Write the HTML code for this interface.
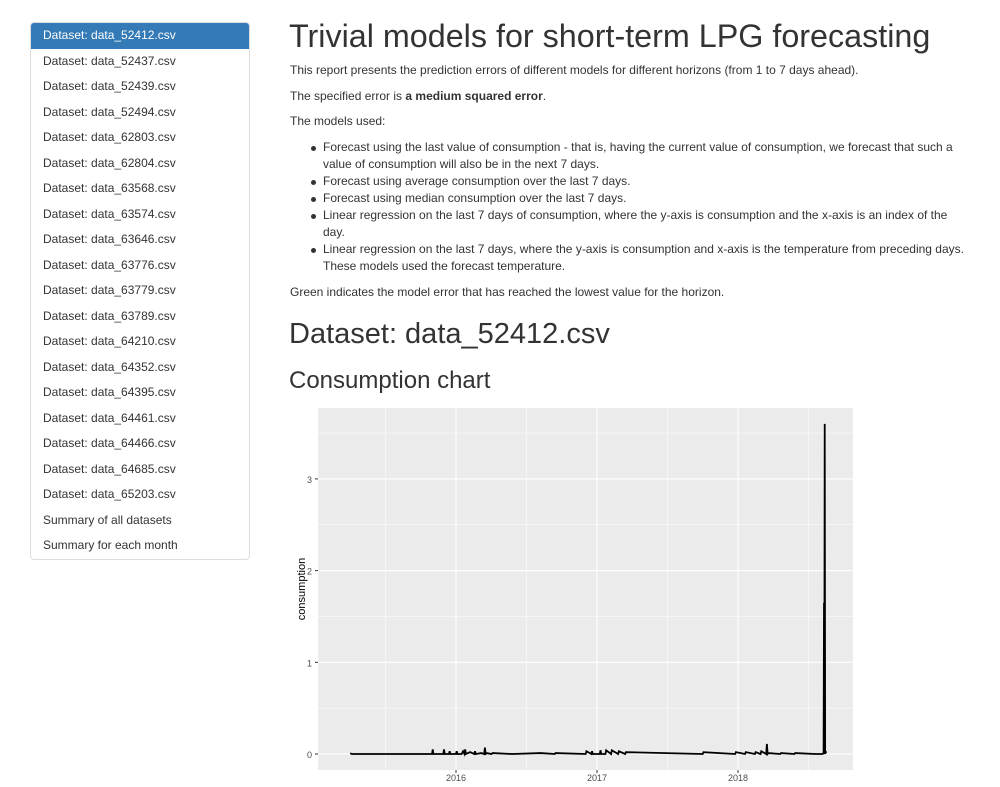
<!DOCTYPE html>
<html><head><meta charset="utf-8"><style>
body{margin:0;width:1000px;height:787px;overflow:hidden;background:#fff;font-family:"Liberation Sans",sans-serif;color:#333;position:relative}
#nav{position:absolute;left:30px;top:22px;width:218px;border:1px solid #ddd;border-radius:4px;overflow:hidden}
#nav div{height:25.5px;line-height:25.5px;padding-left:12px;font-size:12px;color:#333;border-top:0}
#nav div.active{background:#337ab7;color:#fff}
.t{position:absolute;left:290px;font-size:12px;white-space:nowrap}
h1{position:absolute;left:289px;top:18px;margin:0;font-weight:normal;font-size:32.3px;color:#333}
h2{position:absolute;left:289px;margin:0;font-weight:normal;color:#333}
.b{position:absolute;left:323px;font-size:12px;white-space:nowrap}
.b:before{content:"";position:absolute;left:-12px;top:6px;width:5px;height:5px;border-radius:50%;background:#333}
</style></head><body>
<div id="nav">
<div class="active">Dataset: data_52412.csv</div>
<div>Dataset: data_52437.csv</div>
<div>Dataset: data_52439.csv</div>
<div>Dataset: data_52494.csv</div>
<div>Dataset: data_62803.csv</div>
<div>Dataset: data_62804.csv</div>
<div>Dataset: data_63568.csv</div>
<div>Dataset: data_63574.csv</div>
<div>Dataset: data_63646.csv</div>
<div>Dataset: data_63776.csv</div>
<div>Dataset: data_63779.csv</div>
<div>Dataset: data_63789.csv</div>
<div>Dataset: data_64210.csv</div>
<div>Dataset: data_64352.csv</div>
<div>Dataset: data_64395.csv</div>
<div>Dataset: data_64461.csv</div>
<div>Dataset: data_64466.csv</div>
<div>Dataset: data_64685.csv</div>
<div>Dataset: data_65203.csv</div>
<div>Summary of all datasets</div>
<div>Summary for each month</div>
</div>
<h1>Trivial models for short-term LPG forecasting</h1>
<div class="t" style="top:63px">This report presents the prediction errors of different models for different horizons (from 1 to 7 days ahead).</div>
<div class="t" style="top:89px">The specified error is <b>a medium squared error</b>.</div>
<div class="t" style="top:114px">The models used:</div>
<div class="b" style="top:140px">Forecast using the last value of consumption - that is, having the current value of consumption, we forecast that such a</div>
<div class="t" style="top:157px;left:323px">value of consumption will also be in the next 7 days.</div>
<div class="b" style="top:174px">Forecast using average consumption over the last 7 days.</div>
<div class="b" style="top:191px">Forecast using median consumption over the last 7 days.</div>
<div class="b" style="top:208px">Linear regression on the last 7 days of consumption, where the y-axis is consumption and the x-axis is an index of the</div>
<div class="t" style="top:225px;left:323px">day.</div>
<div class="b" style="top:242px">Linear regression on the last 7 days, where the y-axis is consumption and x-axis is the temperature from preceding days.</div>
<div class="t" style="top:259px;left:323px">These models used the forecast temperature.</div>
<div class="t" style="top:285px">Green indicates the model error that has reached the lowest value for the horizon.</div>
<h2 style="top:318px;font-size:29px">Dataset: data_52412.csv</h2>
<h2 style="top:367px;font-size:24px">Consumption chart</h2>
<svg id="chart" style="position:absolute;left:0;top:0" width="1000" height="787"></svg>
<script>
const dates=[2015.25,2015.26,2015.83,2015.835,2015.84,2015.91,2015.915,2015.92,2015.95,2015.955,2015.96,2016.0,2016.005,2016.01,2016.04,2016.05,2016.06,2016.065,2016.07,2016.1,2016.13,2016.135,2016.14,2016.18,2016.2,2016.205,2016.21,2016.22,2016.25,2016.26,2016.4,2016.6,2016.7,2016.705,2016.92,2016.925,2016.96,2016.965,2016.97,2017.02,2017.025,2017.03,2017.06,2017.065,2017.1,2017.105,2017.15,2017.155,2017.2,2017.205,2017.75,2017.755,2017.98,2017.985,2018.05,2018.055,2018.12,2018.125,2018.16,2018.165,2018.2,2018.205,2018.21,2018.215,2018.3,2018.305,2018.4,2018.405,2018.55,2018.6,2018.605,2018.607,2018.61,2018.612,2018.615,2018.618,2018.62,2018.63];
const values=[0.01,0,0,0.05,0,0,0.05,0,0,0.03,0,0,0.03,0,0,0.03,0,0.05,0,0.02,0,0.03,0,0.01,0,0.07,0,0.01,0,0.01,0,0.01,0,0.01,0,0.03,0,0.03,0,0,0.04,0,0,0.04,0,0.04,0,0.03,0,0.02,0,0.02,0,0.02,0,0.02,0,0.02,0,0.03,0,0.11,0,0.01,0,0.01,0,0.01,0,0,0.01,0,1.65,0,3.6,0,0.02,0.02];
const yTicks=[0,1,2,3];
const xTicks=[2016,2017,2018];
const NS="http://www.w3.org/2000/svg";
const svg=document.getElementById('chart');
const L=318,R=853,T=408,B=770;
const x=v=>456+(v-2016)*141;
const y=v=>754-v*91.7;
function mk(t,a){const e=document.createElementNS(NS,t);for(const k in a)e.setAttribute(k,a[k]);svg.appendChild(e);return e;}
const bg=mk('rect',{x:L,y:T,width:R-L,height:B-T,fill:'#ebebeb'});


for(let v=-0.5;v<=3.5;v+=0.5){const yy=y(v);if(yy<T||yy>B)continue;const g=mk('line',{x1:L,x2:R,y1:yy,y2:yy,stroke:'#fff','stroke-width':Number.isInteger(v)?1.1:0.5});

}
for(let v=2015.5;v<=2018.5;v+=0.5){const g=mk('line',{y1:T,y2:B,x1:x(v),x2:x(v),stroke:'#fff','stroke-width':Number.isInteger(v)?1.1:0.5});

}
yTicks.forEach(v=>{const t=mk('text',{x:L-6,y:y(v)+4,'text-anchor':'end','font-size':9,fill:'#4d4d4d','font-family':'Liberation Sans'});t.textContent=v;


mk('line',{x1:L-3,x2:L,y1:y(v),y2:y(v),stroke:'#333'});});
xTicks.forEach(v=>{const t=mk('text',{x:x(v),y:B+11,'text-anchor':'middle','font-size':9,fill:'#4d4d4d','font-family':'Liberation Sans'});t.textContent=v;


mk('line',{x1:x(v),x2:x(v),y1:B,y2:B+3,stroke:'#333'});});
const yl=mk('text',{x:0,y:0,'text-anchor':'middle','font-size':11,fill:'#000','font-family':'Liberation Sans',transform:`translate(305,${(T+B)/2}) rotate(-90)`});yl.textContent='consumption';


let d='';dates.forEach((v,i)=>{d+=(i?'L':'M')+x(v)+','+y(values[i]);});
const p=mk('path',{d:d,fill:'none',stroke:'#000','stroke-width':1.8});


</script>
</body></html>
